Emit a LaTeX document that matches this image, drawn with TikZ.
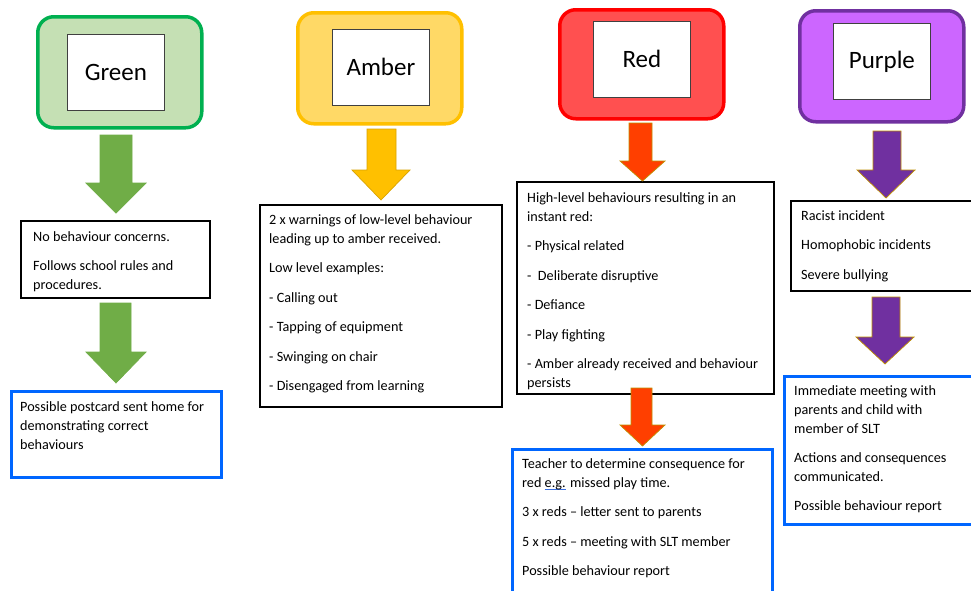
\documentclass[tikz,border=0pt]{standalone}
\usepackage{fontspec}
\setmainfont{Carlito}
\definecolor{gfill}{HTML}{C5E0B4}
\definecolor{gline}{HTML}{00B050}
\definecolor{garrow}{HTML}{70AD47}
\definecolor{afill}{HTML}{FFD966}
\definecolor{aline}{HTML}{FFC000}
\definecolor{aarrow}{HTML}{FFC000}
\definecolor{aedge}{HTML}{D9A300}
\definecolor{rfill}{HTML}{FF5050}
\definecolor{rline}{HTML}{FF0000}
\definecolor{rarrow}{HTML}{FF3F00}
\definecolor{pfill}{HTML}{CC66FF}
\definecolor{pline}{HTML}{7030A0}
\definecolor{parrow}{HTML}{7030A0}
\definecolor{goldedge}{HTML}{C09000}
\definecolor{myblue}{HTML}{0066FF}
\definecolor{ulblue}{HTML}{3A6FE0}
\newsavebox\egbox
\newcommand\blueul[1]{\sbox\egbox{#1}\rlap{\textcolor{ulblue}{\rule[-2.8pt]{\wd\egbox}{0.8pt}}}#1}
% fill, edge, shaft left, shaft right, top, neck, head left, head right, tip
\newcommand\blockarrow[9]{%
  \filldraw[fill=#1,draw=#2,line width=0.7pt] (#3,#5) -- (#4,#5) -- (#4,#6) -- (#8,#6) -- ({(#7+#8)/2},#9) -- (#7,#6) -- (#3,#6) -- cycle;}
\begin{document}
\begin{tikzpicture}[x=1pt,y=-1pt,
  hdr/.style={rounded corners=16pt, line width=3.5pt, minimum width=164pt, minimum height=111pt, anchor=north west, inner sep=0pt},
  lbl/.style={draw=black!75, line width=0.8pt, fill=white, minimum width=97pt, minimum height=76pt, anchor=north west, inner sep=0pt, font=\fontsize{25}{30}\selectfont},
  box/.style={draw=black, line width=1.8pt, anchor=north west, inner sep=0pt},
  bbox/.style={draw=myblue, line width=2.8pt, anchor=north west, inner sep=0pt},
  txt/.style={anchor=north west, inner sep=0pt, align=left, font=\fontsize{14.2}{18.8}\selectfont},
]
\useasboundingbox (0,0) rectangle (971,590);
\fill[white] (0,0) rectangle (971,590);
\clip (0,0) rectangle (971,590);

% ---------------- Green ----------------
\node[hdr, draw=gline, fill=gfill] (gO) at (36,15) {};
\node[lbl] (gI) at (67,34) {Green};
\node[box, minimum width=189pt, minimum height=77pt] (gB1) at (20,220) {};
\node[txt] (gT1) at (33,231.4) {No behaviour concerns.\\[10.5pt]Follows school rules and\\procedures.};
\node[bbox, minimum width=210pt, minimum height=86pt] (gB2) at (10,390) {};
\node[txt] (gT2) at (20,401.4) {Possible postcard sent home for\\demonstrating correct\\behaviours};
\blockarrow{garrow}{garrow}{100}{132}{135}{183}{86}{146}{213}
\blockarrow{garrow}{garrow}{100}{131}{303}{352}{86}{146}{383}

% ---------------- Amber ----------------
\node[hdr, draw=aline, fill=afill] (aO) at (296,11) {};
\node[lbl] (aI) at (332,29) {Amber};
\node[box, minimum width=242pt, minimum height=202pt] (aB1) at (259,204) {};
\node[txt] (aT1) at (269,214.4) {2 x warnings of low-level behaviour\\leading up to amber received.\\[10.7pt]Low level examples:\\[10.7pt]- Calling out\\[10.7pt]- Tapping of equipment\\[10.7pt]- Swinging on chair\\[10.7pt]- Disengaged from learning};
\blockarrow{aarrow}{aedge}{367}{396}{129}{170}{352}{410}{200}

% ---------------- Red ----------------
\node[hdr, draw=rline, fill=rfill, minimum height=109pt] (rO) at (558,8) {};
\node[lbl] (rI) at (593,21) {Red};
\node[box, minimum width=257pt, minimum height=212pt] (rB1) at (516,181) {};
\node[txt] (rT1) at (527,192.4) {High-level behaviours resulting in an\\instant red:\\[10.7pt]- Physical related\\[10.7pt]-\ \ Deliberate disruptive\\[10.7pt]- Defiance\\[10.7pt]- Play fighting\\[10.7pt]- Amber already received and behaviour\\persists};
\node[bbox, minimum width=260pt, minimum height=160pt] (rB2) at (511,448) {};
\node[txt] (rT2) at (522,458.4) {Teacher to determine consequence for\\red \blueul{e.g.} missed play time.\\[10.7pt]3 x reds – letter sent to parents\\[10.7pt]5 x reds – meeting with SLT member\\[10.7pt]Possible behaviour report};
\blockarrow{rarrow}{goldedge}{629}{652}{123}{161}{620}{665}{181}
\blockarrow{rarrow}{goldedge}{631}{652}{388}{425}{620}{665}{446}

% ---------------- Purple ----------------
\node[hdr, draw=pline, fill=pfill] (pO) at (798,9) {};
\node[lbl] (pI) at (833,23) {Purple};
\node[box, minimum width=200pt, minimum height=90pt] (pB1) at (790,200) {};
\node[txt] (pT1) at (801,210.4) {Racist incident\\[10.7pt]Homophobic incidents\\[10.7pt]Severe bullying};
\node[bbox, minimum width=210pt, minimum height=148pt] (pB2) at (783,375) {};
\node[txt] (pT2) at (794,385.4) {Immediate meeting with\\parents and child with\\member of SLT\\[10.7pt]Actions and consequences\\communicated.\\[10.7pt]Possible behaviour report};
\blockarrow{parrow}{goldedge}{873}{901}{131}{170}{857}{915}{198}
\blockarrow{parrow}{goldedge}{872}{900}{297}{337}{856}{914}{364}
\end{tikzpicture}
\end{document}
